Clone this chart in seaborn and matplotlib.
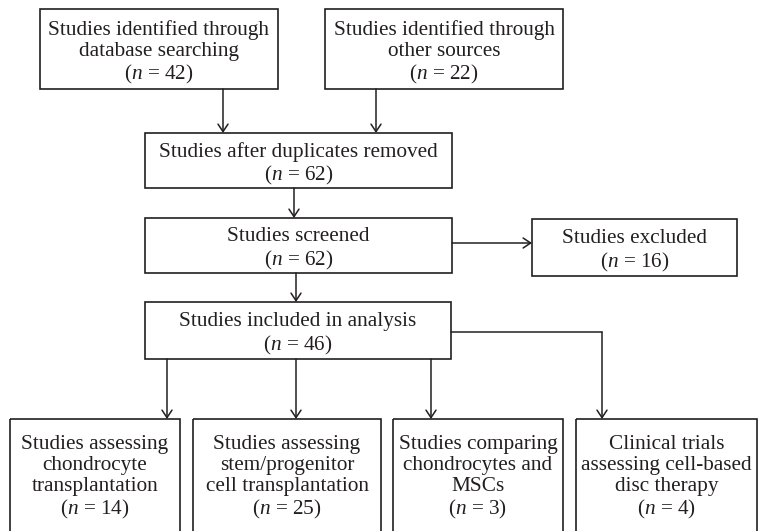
import matplotlib
matplotlib.use("Agg")
import matplotlib.pyplot as plt
import matplotlib.patches as mpatches
import seaborn as sns

# Flow diagram content
stage_labels = [
    "Studies identified through\ndatabase searching",
    "Studies identified through\nother sources",
    "Studies after duplicates removed",
    "Studies screened",
    "Studies excluded",
    "Studies included in analysis",
]
stage_counts = [42, 22, 62, 62, 16, 46]

outcome_labels = [
    "Studies assessing\nchondrocyte\ntransplantation",
    "Studies assessing\nstem/progenitor\ncell transplantation",
    "Studies comparing\nchondrocytes and\nMSCs",
    "Clinical trials\nassessing cell-based\ndisc therapy",
]
outcome_counts = [14, 25, 3, 4]

# Box geometry in pixel units (x0, y0, x1, y1), y grows downward
stage_boxes = [
    (40, 9, 278, 89),
    (325, 9, 563, 89),
    (145, 133, 452, 188),
    (145, 218, 452, 273),
    (532, 219, 737, 276),
    (145, 302, 451, 359),
]
outcome_boxes = [
    (10, 419, 180, 560),
    (193, 419, 381, 560),
    (393, 419, 563, 560),
    (576, 419, 757, 560),
]
outcome_text_y = 478

sns.set_theme(style="white")
plt.rcParams["font.family"] = ["Liberation Serif", "DejaVu Serif"]
plt.rcParams["mathtext.fontset"] = "custom"
plt.rcParams["mathtext.rm"] = "Liberation Serif"
plt.rcParams["mathtext.it"] = "Liberation Serif:italic"

ink = "#231f20"
fs = 15.3

fig = plt.figure(figsize=(7.58, 5.31), dpi=100)
ax = fig.add_axes([0, 0, 1, 1])
ax.set_xlim(0, 758)
ax.set_ylim(531, 0)
ax.axis("off")


def draw_box(b, text, ty=None):
    x0, y0, x1, y1 = b
    ax.add_patch(mpatches.Rectangle((x0, y0), x1 - x0, y1 - y0, fill=False,
                                    edgecolor=ink, linewidth=1.2, clip_on=True))
    cy = (y0 + y1) / 2 + 4 if ty is None else ty
    ax.text((x0 + x1) / 2, cy, text, ha="center", va="center", fontsize=fs,
            color=ink, linespacing=1.12)


def arrow(x0, y0, x1, y1):
    ax.annotate("", xy=(x1, y1), xytext=(x0, y0),
                arrowprops=dict(arrowstyle="->,head_length=0.45,head_width=0.3",
                                color=ink, linewidth=1.1,
                                shrinkA=0, shrinkB=0))


for b, lab, n in zip(stage_boxes, stage_labels, stage_counts):
    draw_box(b, f"{lab}\n($n$ = {n})")

for b, lab, n in zip(outcome_boxes, outcome_labels, outcome_counts):
    draw_box(b, f"{lab}\n($n$ = {n})", ty=outcome_text_y)

# connectors
arrow(223, 89, 223, 133)
arrow(376, 89, 376, 133)
arrow(294, 188, 294, 218)
arrow(296, 273, 296, 302)
arrow(452, 243, 532, 243)
arrow(167, 359, 167, 419)
arrow(296, 359, 296, 419)
arrow(431, 359, 431, 419)
ax.plot([451, 602], [332, 332], color=ink, linewidth=1.1)
arrow(602, 332, 602, 419)

fig.savefig("out.png", dpi=100)
